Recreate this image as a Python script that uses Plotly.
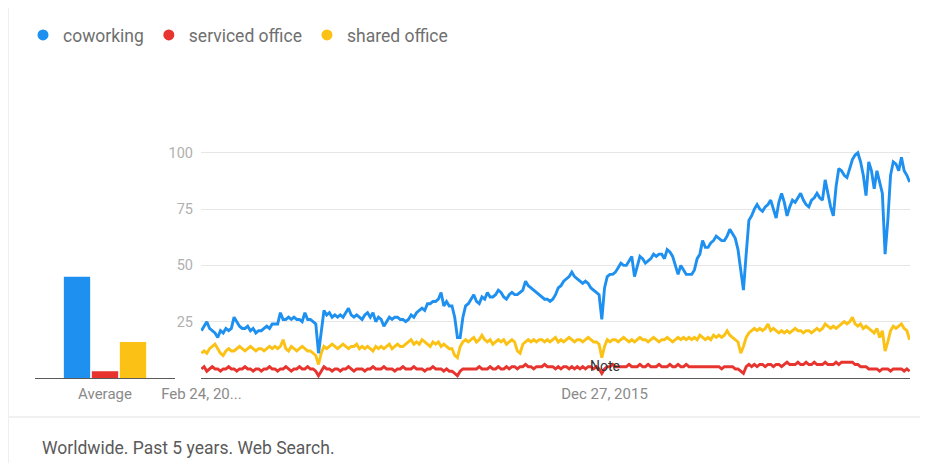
import plotly.graph_objects as go
import pandas as pd

series_names = ["coworking", "serviced office", "shared office"]
colors = ["#1e90f0", "#e8342f", "#fbc215"]

start_date = "2013-02-24"
n_weeks = 261

coworking = [
    21, 23, 25, 22, 21, 20, 18, 21, 20, 22,
    21, 22, 27, 25, 23, 22, 22, 23, 21, 22,
    20, 21, 21, 22, 23, 22, 24, 24, 24, 29,
    26, 26, 27, 26, 27, 26, 26, 25, 29, 26,
    26, 25, 24, 11, 22, 30, 28, 29, 27, 28,
    27, 28, 27, 29, 31, 28, 27, 28, 27, 26,
    28, 29, 27, 29, 25, 27, 26, 23, 25, 27,
    26, 27, 27, 26, 26, 25, 26, 28, 27, 29,
    30, 31, 30, 33, 33, 34, 34, 35, 38, 32,
    34, 32, 32, 27, 18, 18, 27, 32, 33, 35,
    37, 34, 33, 36, 35, 38, 36, 36, 37, 39,
    38, 36, 35, 37, 38, 37, 37, 38, 39, 43,
    41, 40, 39, 38, 37, 36, 35, 35, 34, 35,
    37, 40, 41, 43, 44, 45, 47, 45, 44, 43,
    42, 43, 42, 40, 39, 38, 37, 26, 40, 45,
    46, 46, 47, 49, 51, 50, 50, 52, 54, 45,
    50, 54, 53, 51, 52, 53, 55, 54, 55, 55,
    53, 57, 56, 54, 50, 46, 50, 48, 46, 46,
    46, 48, 53, 55, 61, 58, 58, 60, 61, 63,
    62, 61, 61, 63, 66, 64, 62, 57, 49, 39,
    55, 70, 72, 75, 77, 75, 74, 76, 77, 79,
    75, 71, 78, 82, 78, 72, 76, 79, 78, 80,
    82, 79, 77, 76, 79, 80, 82, 80, 79, 88,
    82, 76, 72, 85, 93, 92, 90, 89, 93, 97,
    99, 100, 96, 90, 81, 96, 92, 84, 92, 87,
    82, 55, 70, 90, 96, 95, 92, 98, 92, 90,
    87,
]

serviced_office = [
    4, 5, 3, 4, 5, 4, 4, 3, 4, 4,
    5, 4, 4, 3, 4, 4, 5, 4, 4, 3,
    4, 4, 3, 4, 4, 5, 4, 4, 3, 4,
    4, 5, 4, 3, 4, 4, 5, 4, 4, 5,
    4, 4, 3, 1, 3, 5, 4, 4, 3, 4,
    4, 3, 4, 4, 5, 4, 3, 4, 4, 4,
    3, 4, 4, 5, 4, 4, 4, 5, 4, 4,
    4, 3, 4, 4, 5, 4, 4, 4, 5, 4,
    4, 4, 3, 4, 4, 5, 4, 4, 4, 3,
    4, 3, 3, 2, 1, 3, 4, 4, 4, 4,
    4, 4, 5, 4, 4, 4, 5, 4, 4, 5,
    4, 4, 5, 4, 5, 5, 4, 5, 5, 6,
    5, 5, 4, 5, 5, 5, 6, 5, 5, 5,
    4, 5, 4, 5, 5, 4, 5, 4, 5, 4,
    5, 4, 5, 5, 4, 5, 4, 2, 4, 5,
    5, 6, 5, 5, 5, 5, 5, 6, 5, 5,
    5, 6, 5, 5, 6, 5, 5, 5, 6, 5,
    5, 5, 6, 5, 5, 6, 5, 5, 6, 5,
    5, 5, 5, 5, 5, 5, 5, 5, 5, 5,
    5, 4, 5, 5, 5, 5, 4, 4, 3, 2,
    5, 6, 5, 6, 5, 6, 6, 5, 6, 6,
    5, 6, 6, 5, 6, 7, 6, 6, 6, 7,
    6, 6, 7, 6, 6, 7, 6, 6, 6, 7,
    6, 6, 6, 7, 6, 7, 7, 7, 7, 7,
    6, 6, 5, 5, 5, 4, 4, 4, 4, 3,
    4, 4, 4, 3, 4, 4, 4, 4, 3, 4,
    3,
]

shared_office = [
    11, 12, 11, 13, 14, 15, 13, 11, 10, 12,
    13, 12, 12, 13, 14, 13, 12, 13, 14, 13,
    12, 13, 13, 12, 13, 14, 13, 14, 13, 14,
    17, 13, 12, 14, 13, 12, 13, 14, 13, 12,
    12, 11, 10, 6, 11, 14, 13, 14, 15, 14,
    13, 14, 15, 14, 13, 14, 14, 15, 13, 14,
    13, 14, 13, 12, 14, 13, 14, 13, 14, 15,
    13, 14, 15, 14, 14, 15, 16, 17, 15, 16,
    15, 17, 16, 15, 14, 16, 15, 16, 14, 15,
    14, 13, 13, 10, 9, 14, 16, 17, 16, 17,
    18, 16, 17, 19, 17, 16, 17, 15, 16, 17,
    16, 17, 15, 16, 17, 16, 12, 11, 15, 16,
    17, 16, 17, 16, 17, 17, 16, 17, 16, 17,
    18, 16, 17, 16, 17, 18, 17, 16, 17, 17,
    16, 17, 18, 17, 16, 16, 15, 9, 14, 17,
    16, 17, 17, 16, 17, 18, 17, 16, 17, 16,
    17, 18, 17, 17, 16, 17, 18, 17, 16, 17,
    17, 18, 17, 16, 17, 18, 17, 18, 17, 18,
    17, 18, 17, 19, 18, 17, 18, 17, 19, 18,
    19, 18, 19, 21, 19, 18, 17, 16, 11, 14,
    18, 20, 21, 22, 21, 22, 21, 22, 24, 21,
    22, 21, 20, 21, 20, 21, 20, 21, 22, 21,
    21, 20, 21, 21, 20, 21, 22, 21, 22, 24,
    23, 22, 23, 22, 23, 24, 25, 24, 25, 27,
    24, 23, 24, 22, 23, 22, 21, 20, 22, 18,
    21, 12, 16, 21, 23, 22, 23, 24, 22, 21,
    17,
]

averages = [45, 3, 16]
average_label = "Average"

x_tick_dates = ["2013-02-24", "2015-12-27"]
x_tick_text = ["Feb 24, 20...", "Dec 27, 2015"]
y_ticks = [25, 50, 75, 100]
note_date = "2015-12-27"
note_text = "Note"
footer_text = "Worldwide. Past 5 years. Web Search."

dates = pd.date_range(start=start_date, periods=n_weeks, freq="7D")
values = [coworking, serviced_office, shared_office]

# The page places the figure 8px in from the window's top-left corner,
# so the figure is sized to fill the rest of the 928x463 window.
OFF = 8
WIN_W, WIN_H = 928, 463
W, H = WIN_W - OFF, WIN_H - OFF


def px_x(p):
    # window pixel -> paper fraction
    return (p - OFF) / W


def px_y(p):
    return (WIN_H - p) / H


fig = go.Figure()

# legend entries (circle markers)
for name, c in zip(series_names, colors):
    fig.add_trace(go.Scatter(
        x=[None], y=[None], mode="markers", name=name,
        marker=dict(color=c, size=11, symbol="circle"),
        showlegend=True, xaxis="x", yaxis="y",
    ))

# average bars
for name, c, v in zip(series_names, colors, averages):
    fig.add_trace(go.Bar(
        x=[average_label], y=[v], name=name, marker=dict(color=c, line=dict(width=0)),
        showlegend=False, xaxis="x2", yaxis="y2", hoverinfo="y",
    ))

# time series lines (draw yellow & red before blue)
for k in [2, 1, 0]:
    fig.add_trace(go.Scatter(
        x=dates, y=values[k], mode="lines", name=series_names[k],
        line=dict(color=colors[k], width=2.9), showlegend=False,
        xaxis="x", yaxis="y",
    ))

y_bot = 378
y_top_range = 104
y_top_px = y_bot - y_top_range * 2.252

fig.update_layout(
    width=W, height=H,
    margin=dict(l=0, r=0, t=0, b=0, pad=0, autoexpand=False),
    paper_bgcolor="white", plot_bgcolor="white",
    font=dict(family="Roboto, Arial, sans-serif"),
    barmode="group", bargap=0.4, bargroupgap=0.06,
    showlegend=True,
    legend=dict(
        orientation="h", x=px_x(23), y=px_y(17), xanchor="left", yanchor="top",
        font=dict(size=17.5, color="#6f6f6f"), itemwidth=30,
        bgcolor="rgba(0,0,0,0)", tracegroupgap=0,
    ),
    xaxis=dict(
        domain=[px_x(201), px_x(910)], type="date", automargin=False,
        range=[dates[0] - pd.Timedelta(days=1), dates[-1] + pd.Timedelta(days=1)],
        showgrid=False, zeroline=False,
        showline=True, linecolor="#5a5a5a", linewidth=1,
        tickvals=pd.to_datetime(x_tick_dates), ticktext=x_tick_text,
        tickfont=dict(size=15, color="#8a8a8a"), ticks="", ticklabelstandoff=2,
        fixedrange=True,
    ),
    yaxis=dict(
        domain=[px_y(y_bot), px_y(y_top_px)], range=[0, y_top_range], automargin=False,
        tickvals=y_ticks, showgrid=True, gridcolor="#e6e6e6", gridwidth=1,
        zeroline=False, showline=False,
        tickfont=dict(size=14.5, color="#b0b0b0"), ticks="", ticklabelstandoff=7,
        fixedrange=True,
    ),
    xaxis2=dict(
        domain=[px_x(35), px_x(175)], anchor="y2", automargin=False,
        showgrid=False, zeroline=False,
        showline=True, linecolor="#5a5a5a", linewidth=1,
        tickfont=dict(size=15, color="#8a8a8a"), ticks="", ticklabelstandoff=2,
        fixedrange=True,
    ),
    yaxis2=dict(
        domain=[px_y(y_bot), px_y(y_top_px)], range=[0, y_top_range], anchor="x2",
        automargin=False,
        showgrid=False, zeroline=False, showticklabels=False, showline=False,
        fixedrange=True,
    ),
    shapes=[
        dict(type="line", xref="paper", yref="paper", x0=0, x1=1,
             y0=px_y(417), y1=px_y(417), line=dict(color="#e2e2e2", width=1)),
        dict(type="line", xref="paper", yref="paper", x0=px_x(8.5), x1=px_x(8.5),
             y0=0, y1=1, line=dict(color="#efefef", width=1)),
    ],
    annotations=[
        dict(text=note_text, x=pd.Timestamp(note_date), y=5.5, xref="x", yref="y",
             showarrow=False, font=dict(size=14, color="#333333")),
        dict(text=footer_text, x=px_x(40), y=px_y(448), xref="paper", yref="paper",
             xanchor="left", yanchor="middle", showarrow=False,
             font=dict(size=17.5, color="#5a5a5a")),
    ],
)

fig.write_html("out.html")
